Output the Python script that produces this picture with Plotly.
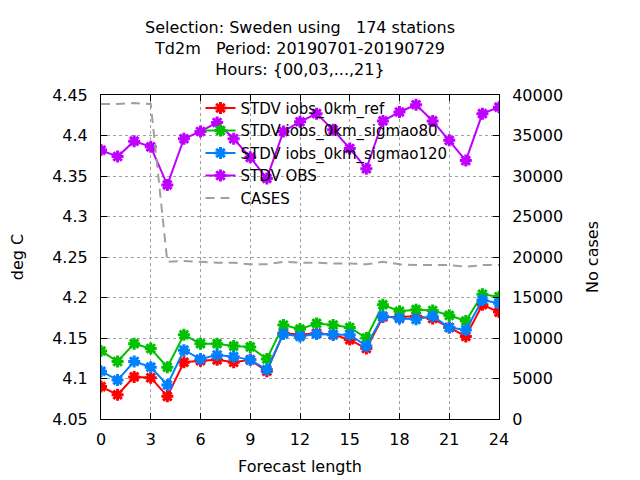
import plotly.graph_objects as go

hours = list(range(0, 25))

stdv_ref = [4.090, 4.080, 4.102, 4.101, 4.078, 4.120, 4.122, 4.123, 4.120,
            4.123, 4.109, 4.156, 4.154, 4.156, 4.154, 4.148, 4.137,
            4.176, 4.176, 4.177, 4.174, 4.163, 4.152, 4.191, 4.182]
stdv_sig80 = [4.134, 4.121, 4.143, 4.137, 4.114, 4.154, 4.143, 4.143, 4.140,
              4.139, 4.124, 4.166, 4.161, 4.168, 4.166, 4.163, 4.150,
              4.191, 4.183, 4.185, 4.184, 4.178, 4.171, 4.204, 4.201]
stdv_sig120 = [4.109, 4.098, 4.121, 4.114, 4.092, 4.135, 4.124, 4.129, 4.127,
               4.123, 4.111, 4.155, 4.152, 4.155, 4.154, 4.154, 4.140,
               4.177, 4.174, 4.173, 4.177, 4.163, 4.160, 4.197, 4.193]
stdv_obs = [4.382, 4.374, 4.393, 4.386, 4.339, 4.396, 4.405, 4.416, 4.396,
            4.373, 4.347, 4.405, 4.417, 4.427, 4.407, 4.384, 4.359,
            4.418, 4.429, 4.438, 4.418, 4.394, 4.369, 4.427, 4.435]
cases = [38900, 38900, 39000, 38900, 19400, 19500, 19400, 19300, 19300,
         19100, 19100, 19400, 19300, 19300, 19200, 19200, 19100,
         19400, 19100, 19000, 19000, 19000, 18800, 19000, 19000]

font = "DejaVu Sans"
fsize = 16
grid = dict(showgrid=True, gridcolor="#a0a0a0", griddash="dot", gridwidth=1)

fig = go.Figure()

series = [
    ("STDV iobs_0km_ref", stdv_ref, "#ff0000"),
    ("STDV iobs_0km_sigmao80", stdv_sig80, "#00c000"),
    ("STDV iobs_0km_sigmao120", stdv_sig120, "#0080ff"),
    ("STDV OBS", stdv_obs, "#c000ff"),
]
for name, vals, col in series:
    fig.add_trace(go.Scatter(
        x=hours, y=vals, name=name, mode="lines+markers",
        line=dict(color=col, width=2),
        marker=dict(symbol="asterisk-open", size=10, color=col,
                    line=dict(color=col, width=3)),
    ))

fig.add_trace(go.Scatter(
    x=hours, y=cases, name="CASES", mode="lines", yaxis="y2",
    line=dict(color="#a0a0a0", width=2, dash="9px,6px"),
))

# the page body adds 8px, so margins are pulled in by 8 on left/top
fig.update_layout(
    width=640, height=480,
    margin=dict(l=93, r=149, t=87, b=69),
    paper_bgcolor="white", plot_bgcolor="white",
    font=dict(family=font, size=fsize, color="black"),
    title=dict(
        text="Selection: Sweden using   174 stations<br>Td2m   Period: 20190701-20190729<br>Hours: {00,03,...,21}",
        x=0.5, xref="paper", xanchor="center",
        y=1 - 25 / 480, yref="container", yanchor="top",
        font=dict(family=font, size=fsize),
    ),
    xaxis=dict(
        range=[0, 24], tickvals=list(range(0, 25, 3)),
        showline=True, linecolor="black", linewidth=1, mirror="ticks",
        ticks="inside", ticklen=6, tickcolor="black",
        ticklabelstandoff=6, automargin=False,
        title=dict(text="Forecast length", standoff=12,
                   font=dict(family=font, size=fsize)),
        zeroline=False, **grid,
    ),
    yaxis=dict(
        range=[4.05, 4.45], dtick=0.05, tick0=4.05,
        showline=True, linecolor="black", linewidth=1, mirror=True,
        ticks="inside", ticklen=6, tickcolor="black",
        ticklabelstandoff=9, automargin=False,
        title=dict(text="deg C", standoff=27,
                   font=dict(family=font, size=fsize)),
        zeroline=False, **grid,
    ),
    yaxis2=dict(
        range=[0, 40000], dtick=5000, overlaying="y", side="right",
        showline=True, linecolor="black", linewidth=1,
        ticks="inside", ticklen=6, tickcolor="black",
        ticklabelstandoff=9, tickformat="d", automargin=False,
        title=dict(text="No cases", standoff=24,
                   font=dict(family=font, size=fsize)),
        showgrid=False, zeroline=False,
    ),
    legend=dict(
        x=0.25, xanchor="left", y=1.01, yanchor="top",
        bgcolor="rgba(0,0,0,0)", font=dict(family=font, size=15),
        tracegroupgap=0,
    ),
)

fig.write_html("out.html")
